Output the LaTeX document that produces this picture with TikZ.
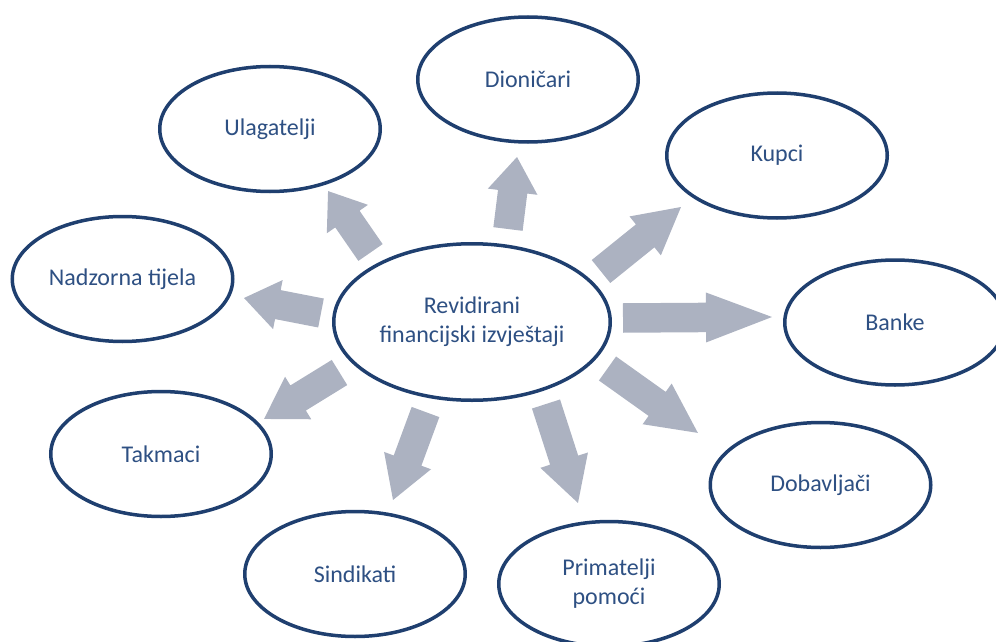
\documentclass[tikz,border=0pt]{standalone}
\usepackage{fontspec}
\setmainfont{Carlito}
\usetikzlibrary{shapes.geometric,calc}
\definecolor{ringblue}{HTML}{1F3F6F}
\definecolor{txtblue}{HTML}{2E5083}
\definecolor{arrowgray}{HTML}{ACB2C1}
\tikzset{
  party/.style={ellipse, draw=ringblue, line width=3.5pt, fill=white, text=txtblue,
    minimum width=220.5pt, minimum height=125pt, inner sep=0pt, outer sep=0pt,
    align=center, font=\fontsize{24}{29}\selectfont},
  hub/.style={party, minimum width=276.5pt, minimum height=156.5pt},
  arrowfill/.style={fill=arrowgray}
}
\newcommand\blockarrow[3]{%
  \fill[arrowfill] let \p1=($(#2)-(#1)$), \n1={atan2(\y1,\x1)}, \n2={veclen(\x1,\y1)} in
    [shift={(#1)}, rotate=\n1]
    (0pt,-14.75pt) -- (\n2-#3pt,-14.75pt) -- (\n2-#3pt,-25pt) -- (\n2,0pt)
    -- (\n2-#3pt,25pt) -- (\n2-#3pt,14.75pt) -- (0pt,14.75pt) -- cycle;}
\begin{document}
\begin{tikzpicture}[x=1pt,y=-1pt]
\useasboundingbox (0,0) rectangle (996,642);
\node[hub] (c) at (472,322) {Revidirani\\financijski izvještaji};
\node[party] (ulag) at (270,129) {Ulagatelji};
\node[party] (dion) at (528,79.5) {Dioničari};
\node[party] (kupci) at (777,155.5) {Kupci};
\node[party] (banke) at (895,322.5) {Banke};
\node[party] (dobav) at (820.5,485) {Dobavljači};
\node[party] (prim) at (609,584) {Primatelji\\pomoći};
\node[party] (sind) at (355,574) {Sindikati};
\node[party] (takm) at (161,454) {Takmaci};
\node[party] (nadz) at (122.5,279) {Nadzorna tijela};
% arrow ends
\coordinate (t1) at (370.5,252.5); \coordinate (h1) at (328,191);
\coordinate (t2) at (508,229);     \coordinate (h2) at (517,157);
\coordinate (t3) at (601,271.5);   \coordinate (h3) at (681,207);
\coordinate (t4) at (623,318);     \coordinate (h4) at (772,317);
\coordinate (t5) at (607.5,368.5); \coordinate (h5) at (698,433);
\coordinate (t6) at (546,404);     \coordinate (h6) at (578,503);
\coordinate (t7) at (425.5,412);   \coordinate (h7) at (393,500);
\coordinate (t8) at (339.5,372.5); \coordinate (h8) at (264,419);
\coordinate (t9) at (321,313);     \coordinate (h9) at (244,298);
\blockarrow{t1}{h1}{34}
\blockarrow{t2}{h2}{35}
\blockarrow{t3}{h3}{46}
\blockarrow{t4}{h4}{66}
\blockarrow{t5}{h5}{50}
\blockarrow{t6}{h6}{45}
\blockarrow{t7}{h7}{42}
\blockarrow{t8}{h8}{40}
\blockarrow{t9}{h9}{34.5}
\end{tikzpicture}
\end{document}
